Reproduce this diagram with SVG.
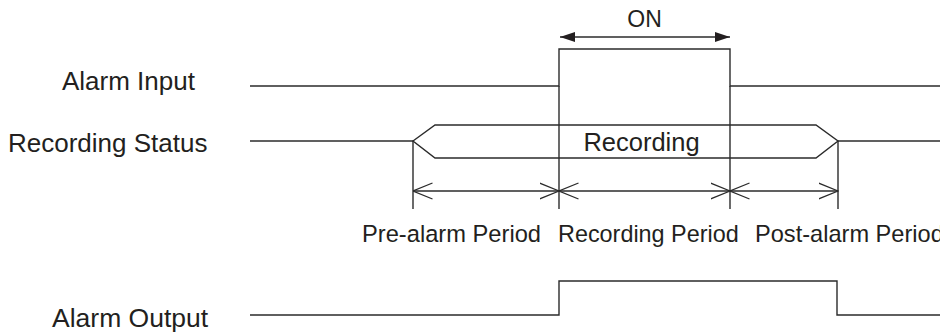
<svg xmlns="http://www.w3.org/2000/svg" width="940" height="333" viewBox="0 0 940 333">
<style>
.ln{fill:none;stroke:#2b2b2b;stroke-width:1.4;stroke-linejoin:miter}
.tx{font-family:"Liberation Sans",Arial,sans-serif;fill:#231f20}
</style>
<defs>
<marker id="fa" viewBox="0 0 15 10" refX="15" refY="5" markerWidth="15" markerHeight="10" markerUnits="userSpaceOnUse" orient="auto-start-reverse">
<path d="M0,0 L15,5 L0,10 Z" fill="#231f20"/>
</marker>
<marker id="oa" viewBox="0 0 20 18" refX="19.5" refY="9" markerWidth="20" markerHeight="18" markerUnits="userSpaceOnUse" orient="auto-start-reverse">
<path d="M0,1 L19.5,9 L0,17" fill="none" stroke="#2b2b2b" stroke-width="1.3"/>
</marker>
</defs>
<rect width="940" height="333" fill="#fff"/>
<g id="alarm-input">
<text class="tx" x="62" y="89.5" font-size="26">Alarm Input</text>
<polyline class="ln" points="250,86 559,86 559,49 730,49 730,86 940,86"/>
</g>
<g id="on-label">
<line class="ln" x1="560" y1="37" x2="730" y2="37" marker-start="url(#fa)" marker-end="url(#fa)"/>
<text class="tx" x="644.5" y="27" font-size="23" text-anchor="middle">ON</text>
</g>
<g id="recording-status">
<text class="tx" x="8" y="151.5" font-size="26">Recording Status</text>
<line class="ln" x1="250" y1="141" x2="413" y2="141"/>
<polygon class="ln" points="413,141 435,125 816,125 838,141 816,158 435,158"/>
<line class="ln" x1="838" y1="141" x2="940" y2="141"/>
<text class="tx" x="641.5" y="151" font-size="25.5" text-anchor="middle">Recording</text>
</g>
<g id="connectors">
<line class="ln" x1="413" y1="141" x2="413" y2="209"/>
<line class="ln" x1="559" y1="86" x2="559" y2="209"/>
<line class="ln" x1="730" y1="86" x2="730" y2="209"/>
<line class="ln" x1="838" y1="141" x2="838" y2="209"/>
<line class="ln" x1="413" y1="191" x2="559" y2="191" marker-start="url(#oa)" marker-end="url(#oa)"/>
<line class="ln" x1="559" y1="191" x2="730" y2="191" marker-start="url(#oa)" marker-end="url(#oa)"/>
<line class="ln" x1="730" y1="191" x2="838" y2="191" marker-start="url(#oa)" marker-end="url(#oa)"/>
</g>
<g id="period-labels">
<text class="tx" x="362" y="242" font-size="23.7">Pre-alarm Period</text>
<text class="tx" x="558" y="242" font-size="23.4">Recording Period</text>
<text class="tx" x="755" y="242" font-size="23.6">Post-alarm Period</text>
</g>
<g id="alarm-output">
<text class="tx" x="52" y="326.5" font-size="26.5">Alarm Output</text>
<polyline class="ln" points="250,315 559,315 559,281 837,281 837,315 940,315"/>
</g>
</svg>
